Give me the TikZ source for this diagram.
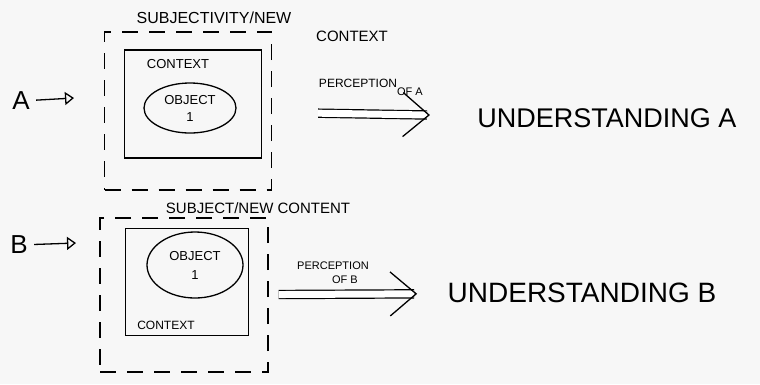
\documentclass[tikz,border=0pt]{standalone}
\usepackage{fontspec}
\setmainfont{Liberation Sans}
\usepackage{tikz}
\usetikzlibrary{arrows,arrows.meta,positioning,shapes.geometric}
\tikzset{
  subjbox/.style={draw,line width=1.3pt,dash pattern=on 16pt off 11pt,inner sep=0pt},
  ctxbox/.style={draw,line width=1.3pt,inner sep=0pt},
  objring/.style={draw,ellipse,line width=1.3pt,inner sep=0pt,align=center,
    font=\fontsize{13}{17}\selectfont},
  implshaft/.style={double,double distance=7pt,line width=1.2pt},
  % only the open head shows: the line itself is one long gap
  implhead/.style={line width=1.3pt,line cap=butt,dash pattern=on 0pt off 2000pt,
    -{Straight Barb[length=26pt,width=44pt]}},
  pointer/.style={line width=1.3pt,-{Triangle[open,length=9pt,width=13pt]}},
}

\begin{document}
\begin{tikzpicture}[x=1pt,y=-1pt,>=stealth]
\fill[black!3] (0,0) rectangle (760,384);
\useasboundingbox (0,0) rectangle (760,384);
% --- case A
\node (labA) at (21,101) {\fontsize{26}{28}\selectfont A};
\coordinate (tipA) at (74,98);
\node[subjbox,minimum width=167pt,minimum height=158pt] (outerA) at (188,111) {};
\node[ctxbox,minimum width=137pt,minimum height=108pt] (boxA) at (193,104) {};
\node[objring,minimum width=92pt,minimum height=50pt] (objA) at (190,108) {OBJECT\\1};
\node (ctxA) at (178,64) {\fontsize{13}{15}\selectfont CONTEXT};
\node (subA) at (214,18) {\fontsize{16}{18}\selectfont SUBJECTIVITY/NEW};
\node (subctxA) at (352,36) {\fontsize{15}{17}\selectfont CONTEXT};
\node (percA) at (358,83) {\fontsize{12}{14}\selectfont PERCEPTION};
\node (ofA) at (410,92) {\fontsize{11}{13}\selectfont OF A};
\node (undA) at (607,118) {\fontsize{27}{29}\selectfont UNDERSTANDING A};
\draw[pointer,shorten <=3pt] (labA) -- (tipA);
\draw[implshaft,shorten <=46pt,shorten >=47pt] (outerA) -- (undA);
\draw[implhead,shorten <=46pt,shorten >=44pt] (outerA) -- (undA);
% --- case B
\node (labB) at (19,245) {\fontsize{26}{28}\selectfont B};
\coordinate (tipB) at (76,243);
\node[subjbox,minimum width=168pt,minimum height=154pt] (outerB) at (184,295) {};
\node[ctxbox,minimum width=123pt,minimum height=107pt] (boxB) at (187,282) {};
\node[objring,minimum width=96pt,minimum height=66pt,font=\fontsize{13}{19}\selectfont] (objB) at (195,265) {OBJECT\\1};
\node (ctxB) at (166,325) {\fontsize{12}{14}\selectfont CONTEXT};
\node (subB) at (258,208) {\fontsize{15}{17}\selectfont SUBJECT/NEW CONTENT};
\node (percB) at (333,266) {\fontsize{11}{13}\selectfont PERCEPTION};
\node (ofB) at (345,280) {\fontsize{11}{13}\selectfont OF B};
\node (undB) at (582,293) {\fontsize{28}{30}\selectfont UNDERSTANDING B};
\draw[pointer,shorten <=3pt] (labB) -- (tipB);
\draw[implshaft,shorten <=10pt,shorten >=30pt] (outerB) -- (undB);
\draw[implhead,shorten <=10pt,shorten >=27pt] (outerB) -- (undB);
\end{tikzpicture}
\end{document}
